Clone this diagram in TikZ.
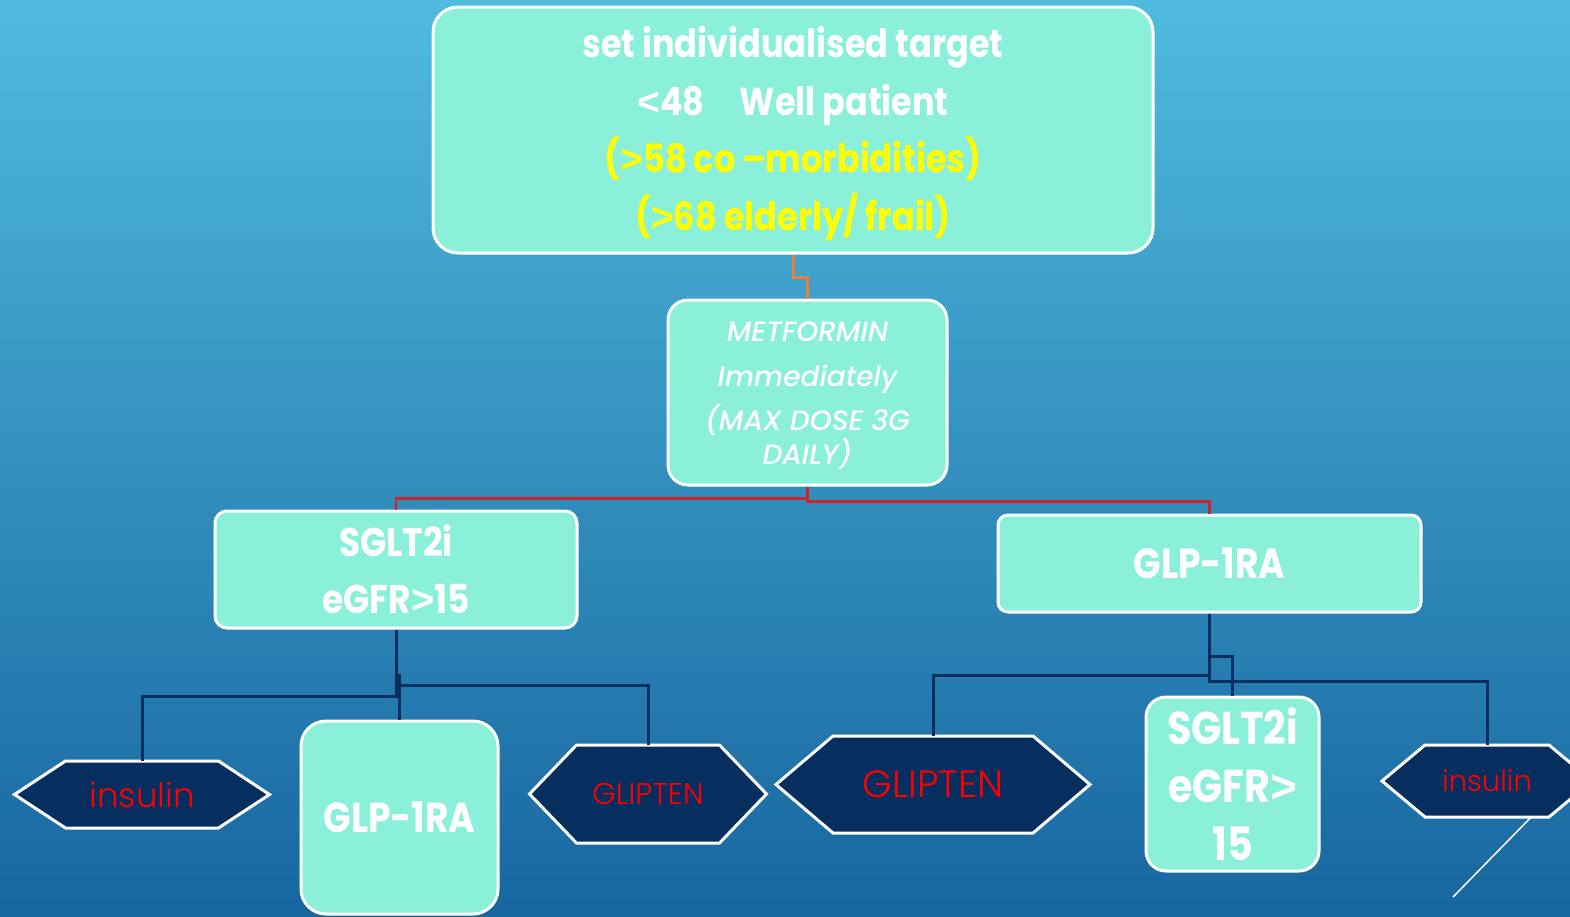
\documentclass[tikz,border=0pt]{standalone}
\usepackage{fontspec}
\setmainfont{Poppins}
\newfontfamily\boxfont[FakeStretch=0.86]{Poppins}
\newfontfamily\medfont{Poppins Medium}
\newfontfamily\redfont{Poppins Light}
\newfontfamily\signfont{Liberation Sans}
\newcommand\lesssign{{\signfont\bfseries <}}
\newcommand\moresign{{\signfont\bfseries >}}
\usetikzlibrary{calc}

\definecolor{bgtop}{HTML}{50BBDE}
\definecolor{bgbot}{HTML}{1766A0}
\definecolor{aqua}{HTML}{8AF0DA}
\definecolor{navy}{HTML}{062E5F}
\definecolor{linkorange}{HTML}{E8803A}
\definecolor{linkred}{HTML}{D0222A}
\definecolor{hilite}{HTML}{FFFF00}
\definecolor{alert}{HTML}{FF0000}

\tikzset{
  tealbox/.style={draw=white, line width=3pt, fill=aqua, rounded corners=#1,
    text=white, align=center, inner sep=0pt},
  boldtext/.style 2 args={font={\boxfont\bfseries\fontsize{#1}{#2}\selectfont}},
  hexfill/.style={draw=white, line width=3pt, fill=navy, line join=miter},
  hexcore/.style={inner sep=0pt, text=alert},
  orangelink/.style={draw=linkorange, line width=3pt},
  redlink/.style={draw=linkred, line width=2.8pt},
  navylink/.style={draw=navy, line width=3pt},
}

% hexagon: name, centre x, centre y, half flat width, half height, point depth, font size, text
\newcommand\hexnode[8]{%
  \path[hexfill] ({#2-#4},{#3-#5}) -- ({#2+#4},{#3-#5}) -- ({#2+#4+#6},#3)
    -- ({#2+#4},{#3+#5}) -- ({#2-#4},{#3+#5}) -- ({#2-#4-#6},#3) -- cycle;
  \node[hexcore, minimum width={2*#4}, minimum height={2*#5},
        font={\redfont\fontsize{#7}{#7}\selectfont}] (#1) at (#2,#3) {#8};%
}

\begin{document}
\begin{tikzpicture}[x=1pt,y=-1pt]
\useasboundingbox (0,0) rectangle (1570,916);
\clip (0,0) rectangle (1570,916);
\shade[top color=bgtop, bottom color=bgbot] (0,0) rectangle (1570,916);

% main boxes
\node[tealbox=25pt, boldtext={39}{57.5}, minimum width=720pt, minimum height=246pt] (target) at (793,130)
  {\rule{0pt}{38pt}set individualised target\\
   \lesssign 48\hspace{0.9em}Well patient\\
   \textcolor{hilite}{(\moresign 58 co –morbidities)}\\
   \textcolor{hilite}{(\moresign 68 elderly/ frail)}};

\node[tealbox=20pt, font={\medfont\itshape\fontsize{28}{44.5}\selectfont},
      minimum width=279pt, minimum height=185pt] (met) at (807.5,392.5)
  {\rule{0pt}{26pt}METFORMIN\\ Immediately\\ (MAX DOSE 3G\\[-11pt] DAILY)};

\node[tealbox=12pt, boldtext={40}{57}, minimum width=362pt, minimum height=117pt] (sgltA) at (396,569.5)
  {SGLT2i\\ eGFR\moresign 15};

\node[tealbox=10pt, boldtext={42}{42}, minimum width=423pt, minimum height=97pt] (glpB) at (1209.5,563.5)
  {GLP-1RA};

\node[tealbox=25pt, boldtext={42}{42}, minimum width=197pt, minimum height=193pt] (glpA) at (399.5,817.5)
  {GLP-1RA};

\node[tealbox=20pt, boldtext={46}{58}, minimum width=173pt, minimum height=174pt] (sgltB) at (1232.5,784)
  {SGLT2i\\ eGFR\moresign\\ 15};

% hexagons
\hexnode{insA}{142}{794.5}{76.5}{33.5}{51}{34}{insulin}
\hexnode{gliA}{648}{794}{71.5}{49}{47}{30}{GLIPTEN}
\hexnode{gliB}{933}{784.5}{100}{48.5}{57}{38}{GLIPTEN}
\hexnode{insB}{1487}{781}{62}{36}{43}{29}{insulin}

% connectors
\draw[orangelink] (target.south) -- ++(0,23) -| (met.north);
\draw[redlink] (met.south) -- ++(0,12) -| (sgltA.north);
\draw[redlink] (met.south) -- ++(0,15) -| (glpB.north);

\draw[navylink] (sgltA.south) -- ++(0,67) -| (insA.north);
\draw[navylink] (glpA.north) -- ++(0,-46);
\draw[navylink] (gliA.north) |- ($(glpA.north)+(0,-34)$);

\draw[navylink] (glpB.south) -- ++(0,68) -| (insB.north);
\draw[navylink] (gliB.north) |- ($(glpB.south)+(0,62)$);
\draw[navylink] ($(glpB.south)+(0,43)$) -| (sgltB.north);

\coordinate (tail) at (1453,897);
\draw[white, line width=1.5pt] ($(insB.south)+(44,0)$) -- (tail);
\end{tikzpicture}
\end{document}
